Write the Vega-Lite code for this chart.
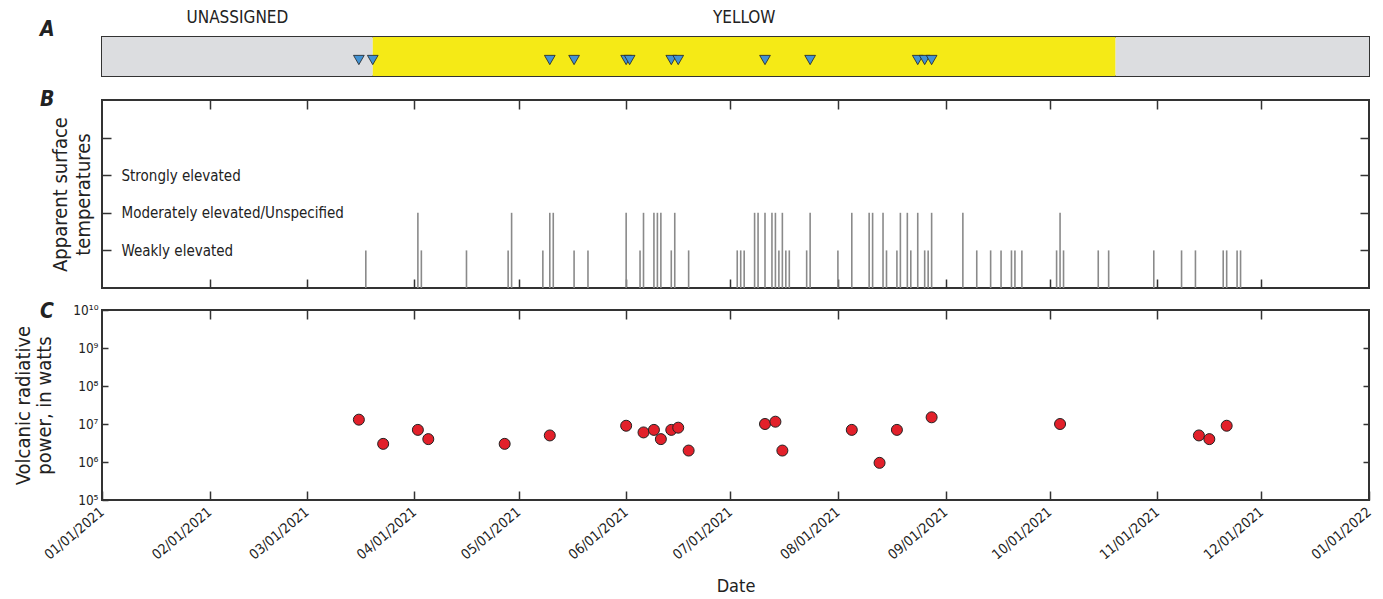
{
  "$schema": "https://vega.github.io/schema/vega-lite/v6.json",
  "padding": {"left": 12, "top": 8, "right": 10, "bottom": 5},
  "background": "white",
  "config": {
    "font": "'DejaVu Sans Condensed', 'Liberation Sans Narrow', Roboto, sans-serif",
    "view": {"stroke": "#333333", "strokeWidth": 2},
    "axis": {
      "labelFont": "'DejaVu Sans Condensed', 'Liberation Sans Narrow', Roboto, sans-serif",
      "titleFont": "'DejaVu Sans Condensed', 'Liberation Sans Narrow', Roboto, sans-serif",
      "labelColor": "#222222",
      "titleColor": "#222222",
      "tickColor": "#333333",
      "tickWidth": 1.5,
      "domain": false,
      "grid": false,
      "titleFontWeight": "normal",
      "labelLimit": 0,
      "zindex": 1
    },
    "title": {"font": "'DejaVu Sans Condensed', 'Liberation Sans Narrow', Roboto, sans-serif", "fontSize": 21, "fontStyle": "italic", "fontWeight": "bold", "color": "#222222", "anchor": "start", "frame": "group", "baseline": "bottom", "offset": 0}
  },
  "datasets": {
    "alert": [
      {"start": "2021-01-01", "end": "2021-03-20", "level": "UNASSIGNED", "label": "UNASSIGNED", "mid": "2021-02-09"},
      {"start": "2021-03-20", "end": "2021-10-20", "level": "YELLOW", "label": "YELLOW", "mid": "2021-07-05"},
      {"start": "2021-10-20", "end": "2022-01-01", "level": "UNASSIGNED", "label": "", "mid": "2021-11-25"}
    ],
    "obs": [
      {"date": "2021-03-16"}, {"date": "2021-03-20"}, {"date": "2021-05-10"}, {"date": "2021-05-17"},
      {"date": "2021-06-01"}, {"date": "2021-06-02"}, {"date": "2021-06-14"}, {"date": "2021-06-16"},
      {"date": "2021-07-11"}, {"date": "2021-07-24"}, {"date": "2021-08-24"}, {"date": "2021-08-26"},
      {"date": "2021-08-28"}
    ],
    "thermal": [
      {"date": "2021-03-18", "level": 1}, {"date": "2021-04-02", "level": 2}, {"date": "2021-04-03", "level": 1},
      {"date": "2021-04-16", "level": 1}, {"date": "2021-04-28", "level": 1}, {"date": "2021-04-29", "level": 2},
      {"date": "2021-05-08", "level": 1}, {"date": "2021-05-10", "level": 2}, {"date": "2021-05-11", "level": 2},
      {"date": "2021-05-17", "level": 1}, {"date": "2021-05-21", "level": 1}, {"date": "2021-06-01", "level": 2},
      {"date": "2021-06-05", "level": 1}, {"date": "2021-06-06", "level": 2}, {"date": "2021-06-09", "level": 2},
      {"date": "2021-06-10", "level": 2}, {"date": "2021-06-11", "level": 2}, {"date": "2021-06-14", "level": 1},
      {"date": "2021-06-15", "level": 2}, {"date": "2021-06-19", "level": 1}, {"date": "2021-07-03", "level": 1},
      {"date": "2021-07-04", "level": 1}, {"date": "2021-07-05", "level": 1}, {"date": "2021-07-08", "level": 2},
      {"date": "2021-07-09", "level": 2}, {"date": "2021-07-11", "level": 2}, {"date": "2021-07-13", "level": 2},
      {"date": "2021-07-14", "level": 2}, {"date": "2021-07-15", "level": 1}, {"date": "2021-07-16", "level": 2},
      {"date": "2021-07-17", "level": 1}, {"date": "2021-07-18", "level": 1}, {"date": "2021-07-23", "level": 1},
      {"date": "2021-07-24", "level": 2}, {"date": "2021-08-01", "level": 1}, {"date": "2021-08-05", "level": 2},
      {"date": "2021-08-10", "level": 2}, {"date": "2021-08-11", "level": 2}, {"date": "2021-08-14", "level": 2},
      {"date": "2021-08-15", "level": 1}, {"date": "2021-08-18", "level": 1}, {"date": "2021-08-19", "level": 2},
      {"date": "2021-08-21", "level": 2}, {"date": "2021-08-22", "level": 1}, {"date": "2021-08-24", "level": 2},
      {"date": "2021-08-26", "level": 1}, {"date": "2021-08-27", "level": 1}, {"date": "2021-08-28", "level": 2},
      {"date": "2021-09-06", "level": 2}, {"date": "2021-09-10", "level": 1}, {"date": "2021-09-14", "level": 1},
      {"date": "2021-09-17", "level": 1}, {"date": "2021-09-20", "level": 1}, {"date": "2021-09-21", "level": 1},
      {"date": "2021-09-23", "level": 1}, {"date": "2021-10-03", "level": 1}, {"date": "2021-10-04", "level": 2},
      {"date": "2021-10-05", "level": 1}, {"date": "2021-10-15", "level": 1}, {"date": "2021-10-18", "level": 1},
      {"date": "2021-10-31", "level": 1}, {"date": "2021-11-08", "level": 1}, {"date": "2021-11-12", "level": 1},
      {"date": "2021-11-20", "level": 1}, {"date": "2021-11-21", "level": 1}, {"date": "2021-11-24", "level": 1},
      {"date": "2021-11-25", "level": 1}
    ],
    "vrp": [
      {"date": "2021-03-16", "power": 13000000}, {"date": "2021-03-23", "power": 3000000},
      {"date": "2021-04-02", "power": 7000000}, {"date": "2021-04-05", "power": 4000000},
      {"date": "2021-04-27", "power": 3000000}, {"date": "2021-05-10", "power": 5000000},
      {"date": "2021-06-01", "power": 9000000}, {"date": "2021-06-06", "power": 6000000},
      {"date": "2021-06-09", "power": 7000000}, {"date": "2021-06-11", "power": 4000000},
      {"date": "2021-06-14", "power": 7000000}, {"date": "2021-06-16", "power": 8000000},
      {"date": "2021-06-19", "power": 2000000}, {"date": "2021-07-11", "power": 10000000},
      {"date": "2021-07-14", "power": 11500000}, {"date": "2021-07-16", "power": 2000000},
      {"date": "2021-08-05", "power": 7000000}, {"date": "2021-08-13", "power": 950000},
      {"date": "2021-08-18", "power": 7000000}, {"date": "2021-08-28", "power": 15000000},
      {"date": "2021-10-04", "power": 10000000}, {"date": "2021-11-13", "power": 5000000},
      {"date": "2021-11-16", "power": 4000000}, {"date": "2021-11-21", "power": 9000000}
    ]
  },
  "spacing": 24,
  "bounds": "flush",
  "vconcat": [
    {
      "width": 1267,
      "height": 39,
      "title": {"text": "A", "dx": -62, "dy": 35},
      "layer": [
        {
          "data": {"name": "alert"},
          "mark": {"type": "rect"},
          "encoding": {
            "x": {"field": "start", "type": "temporal",
              "scale": {"type": "utc", "domain": [{"year": 2021, "month": 1, "date": 1, "utc": true}, {"year": 2022, "month": 1, "date": 1, "utc": true}]},
              "axis": {"orient": "bottom", "labels": false, "title": null, "tickSize": -9,
                "values": [{"year": 2021, "month": 2, "date": 1, "utc": true}, {"year": 2021, "month": 3, "date": 1, "utc": true}, {"year": 2021, "month": 4, "date": 1, "utc": true}, {"year": 2021, "month": 5, "date": 1, "utc": true}, {"year": 2021, "month": 6, "date": 1, "utc": true}, {"year": 2021, "month": 7, "date": 1, "utc": true}, {"year": 2021, "month": 8, "date": 1, "utc": true}, {"year": 2021, "month": 9, "date": 1, "utc": true}, {"year": 2021, "month": 10, "date": 1, "utc": true}, {"year": 2021, "month": 11, "date": 1, "utc": true}, {"year": 2021, "month": 12, "date": 1, "utc": true}]}},
            "x2": {"field": "end"},
            "color": {"field": "level", "type": "nominal", "scale": {"domain": ["UNASSIGNED", "YELLOW"], "range": ["#dcdde0", "#f5ea16"]}, "legend": null}
          }
        },
        {
          "data": {"name": "alert"},
          "transform": [{"filter": "datum.label != ''"}],
          "mark": {"type": "text", "baseline": "bottom", "dy": -10, "fontSize": 17, "color": "#222222"},
          "encoding": {
            "x": {"field": "mid", "type": "temporal", "axis": null},
            "y": {"datum": 1, "type": "quantitative", "scale": {"domain": [0, 1]}, "axis": null},
            "text": {"field": "label"}
          }
        },
        {
          "data": {"name": "obs"},
          "mark": {"type": "point", "shape": "triangle-down", "filled": true, "fill": "#4292d4", "stroke": "#222222", "strokeWidth": 0.8, "size": 115, "opacity": 1},
          "encoding": {
            "x": {"field": "date", "type": "temporal",
              "axis": {"orient": "top", "labels": false, "title": null, "tickSize": -9,
                "values": [{"year": 2021, "month": 2, "date": 1, "utc": true}, {"year": 2021, "month": 3, "date": 1, "utc": true}, {"year": 2021, "month": 4, "date": 1, "utc": true}, {"year": 2021, "month": 5, "date": 1, "utc": true}, {"year": 2021, "month": 6, "date": 1, "utc": true}, {"year": 2021, "month": 7, "date": 1, "utc": true}, {"year": 2021, "month": 8, "date": 1, "utc": true}, {"year": 2021, "month": 9, "date": 1, "utc": true}, {"year": 2021, "month": 10, "date": 1, "utc": true}, {"year": 2021, "month": 11, "date": 1, "utc": true}, {"year": 2021, "month": 12, "date": 1, "utc": true}]}},
            "y": {"datum": 0.41, "type": "quantitative", "axis": null}
          }
        }
      ],
      "resolve": {"axis": {"x": "independent"}}
    },
    {
      "spacing": 22,
      "bounds": "flush",
      "vconcat": [
        {
          "width": 1267,
          "height": 188,
          "title": {"text": "B", "dx": -62, "dy": 15},
          "data": {"name": "thermal"},
          "layer": [
            {
              "mark": {"type": "rule", "stroke": "#8a8a8a", "strokeWidth": 1.6},
              "encoding": {
                "x": {"field": "date", "type": "temporal",
                  "scale": {"type": "utc", "domain": [{"year": 2021, "month": 1, "date": 1, "utc": true}, {"year": 2022, "month": 1, "date": 1, "utc": true}]},
                  "axis": {"orient": "bottom", "labels": false, "title": null, "tickSize": -9,
                    "values": [{"year": 2021, "month": 2, "date": 1, "utc": true}, {"year": 2021, "month": 3, "date": 1, "utc": true}, {"year": 2021, "month": 4, "date": 1, "utc": true}, {"year": 2021, "month": 5, "date": 1, "utc": true}, {"year": 2021, "month": 6, "date": 1, "utc": true}, {"year": 2021, "month": 7, "date": 1, "utc": true}, {"year": 2021, "month": 8, "date": 1, "utc": true}, {"year": 2021, "month": 9, "date": 1, "utc": true}, {"year": 2021, "month": 10, "date": 1, "utc": true}, {"year": 2021, "month": 11, "date": 1, "utc": true}, {"year": 2021, "month": 12, "date": 1, "utc": true}]}},
                "y": {"field": "level", "type": "quantitative", "scale": {"domain": [0, 5]},
                  "axis": {"orient": "left", "values": [1, 2, 3, 4], "tickSize": -9, "labelAlign": "left", "labelPadding": -10, "labelFontSize": 15,
                    "labelExpr": "datum.value == 1 ? 'Weakly elevated' : datum.value == 2 ? 'Moderately elevated/Unspecified' : datum.value == 3 ? 'Strongly elevated' : ''",
                    "title": ["Apparent surface", "temperatures"], "titleFontSize": 20, "titleLineHeight": 23, "titlePadding": 8}},
                "y2": {"datum": 0}
              }
            },
            {
              "mark": {"type": "point", "opacity": 0},
              "encoding": {
                "x": {"field": "date", "type": "temporal",
                  "axis": {"orient": "top", "labels": false, "title": null, "tickSize": -9,
                    "values": [{"year": 2021, "month": 2, "date": 1, "utc": true}, {"year": 2021, "month": 3, "date": 1, "utc": true}, {"year": 2021, "month": 4, "date": 1, "utc": true}, {"year": 2021, "month": 5, "date": 1, "utc": true}, {"year": 2021, "month": 6, "date": 1, "utc": true}, {"year": 2021, "month": 7, "date": 1, "utc": true}, {"year": 2021, "month": 8, "date": 1, "utc": true}, {"year": 2021, "month": 9, "date": 1, "utc": true}, {"year": 2021, "month": 10, "date": 1, "utc": true}, {"year": 2021, "month": 11, "date": 1, "utc": true}, {"year": 2021, "month": 12, "date": 1, "utc": true}]}},
                "y": {"field": "level", "type": "quantitative",
                  "axis": {"orient": "right", "values": [1, 2, 3, 4], "labels": false, "title": null, "tickSize": -9}}
              }
            }
          ],
          "resolve": {"axis": {"x": "independent", "y": "independent"}}
        },
        {
          "width": 1267,
          "height": 190,
          "title": {"text": "C", "dx": -62, "dy": 23},
          "data": {"name": "vrp"},
          "layer": [
            {
              "mark": {"type": "point", "shape": "circle", "filled": true, "fill": "#e2202a", "stroke": "#222222", "strokeWidth": 1, "size": 121, "opacity": 1},
              "encoding": {
                "x": {"field": "date", "type": "temporal",
                  "scale": {"type": "utc", "domain": [{"year": 2021, "month": 1, "date": 1, "utc": true}, {"year": 2022, "month": 1, "date": 1, "utc": true}]},
                  "axis": {"orient": "bottom", "tickSize": -9, "labelPadding": 19, "labelAngle": -40, "labelAlign": "right", "labelBaseline": "middle", "labelFontSize": 14,
                    "labelExpr": "utcFormat(datum.value, '%m/%d/%Y')", "labelOverlap": false, "labelFlush": false,
                    "title": "Date", "titleFontSize": 18, "titlePadding": 15,
                    "values": [{"year": 2021, "month": 1, "date": 1, "utc": true}, {"year": 2021, "month": 2, "date": 1, "utc": true}, {"year": 2021, "month": 3, "date": 1, "utc": true}, {"year": 2021, "month": 4, "date": 1, "utc": true}, {"year": 2021, "month": 5, "date": 1, "utc": true}, {"year": 2021, "month": 6, "date": 1, "utc": true}, {"year": 2021, "month": 7, "date": 1, "utc": true}, {"year": 2021, "month": 8, "date": 1, "utc": true}, {"year": 2021, "month": 9, "date": 1, "utc": true}, {"year": 2021, "month": 10, "date": 1, "utc": true}, {"year": 2021, "month": 11, "date": 1, "utc": true}, {"year": 2021, "month": 12, "date": 1, "utc": true}, {"year": 2022, "month": 1, "date": 1, "utc": true}]}},
                "y": {"field": "power", "type": "quantitative", "scale": {"type": "log", "domain": [100000, 10000000000]},
                  "axis": {"orient": "left", "values": [100000, 1000000, 10000000, 100000000, 1000000000, 10000000000], "tickSize": -6, "labelPadding": 10, "labelFontSize": 13.5,
                    "labelExpr": "datum.value < 2e5 ? '10⁵' : datum.value < 2e6 ? '10⁶' : datum.value < 2e7 ? '10⁷' : datum.value < 2e8 ? '10⁸' : datum.value < 2e9 ? '10⁹' : '10¹⁰'",
                    "title": ["Volcanic radiative", "power, in watts"], "titleFontSize": 20, "titleLineHeight": 21, "titlePadding": 18}}
              }
            },
            {
              "mark": {"type": "point", "opacity": 0},
              "encoding": {
                "x": {"field": "date", "type": "temporal",
                  "axis": {"orient": "top", "labels": false, "title": null, "tickSize": -9,
                    "values": [{"year": 2021, "month": 2, "date": 1, "utc": true}, {"year": 2021, "month": 3, "date": 1, "utc": true}, {"year": 2021, "month": 4, "date": 1, "utc": true}, {"year": 2021, "month": 5, "date": 1, "utc": true}, {"year": 2021, "month": 6, "date": 1, "utc": true}, {"year": 2021, "month": 7, "date": 1, "utc": true}, {"year": 2021, "month": 8, "date": 1, "utc": true}, {"year": 2021, "month": 9, "date": 1, "utc": true}, {"year": 2021, "month": 10, "date": 1, "utc": true}, {"year": 2021, "month": 11, "date": 1, "utc": true}, {"year": 2021, "month": 12, "date": 1, "utc": true}]}},
                "y": {"field": "power", "type": "quantitative",
                  "axis": {"orient": "right", "values": [1000000, 10000000, 100000000, 1000000000], "labels": false, "title": null, "tickSize": -6}}
              }
            }
          ],
          "resolve": {"axis": {"x": "independent", "y": "independent"}}
        }
      ]
    }
  ]
}
